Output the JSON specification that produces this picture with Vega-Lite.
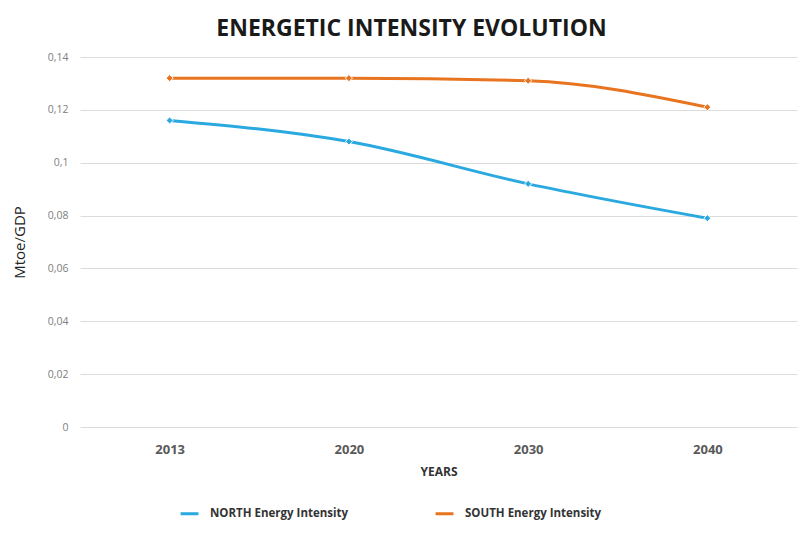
{
  "$schema": "https://vega.github.io/schema/vega-lite/v6.json",
  "autosize": {"type": "none"},
  "width": 717,
  "height": 370,
  "padding": {"left": 80, "top": 57, "right": 8, "bottom": 106},
  "background": "white",
  "title": {
    "text": "ENERGETIC INTENSITY EVOLUTION",
    "font": "Open Sans",
    "fontSize": 23,
    "fontWeight": "bold",
    "color": "#1a1a1a",
    "anchor": "middle",
    "dx": -27,
    "offset": 11
  },
  "data": {
    "values": [
      {"year": "2013", "series": "NORTH Energy Intensity", "value": 0.116},
      {"year": "2020", "series": "NORTH Energy Intensity", "value": 0.108},
      {"year": "2030", "series": "NORTH Energy Intensity", "value": 0.092},
      {"year": "2040", "series": "NORTH Energy Intensity", "value": 0.079},
      {"year": "2013", "series": "SOUTH Energy Intensity", "value": 0.132},
      {"year": "2020", "series": "SOUTH Energy Intensity", "value": 0.132},
      {"year": "2030", "series": "SOUTH Energy Intensity", "value": 0.131},
      {"year": "2040", "series": "SOUTH Energy Intensity", "value": 0.121}
    ]
  },
  "encoding": {
    "x": {
      "field": "year",
      "type": "ordinal",
      "scale": {"type": "point", "padding": 0.5},
      "axis": {
        "title": "YEARS",
        "titleFont": "Open Sans",
        "titleFontSize": 12,
        "titleFontWeight": "bold",
        "titleColor": "#333333",
        "titlePadding": 10,
        "labelAngle": 0,
        "labelFont": "Open Sans",
        "labelFontSize": 13,
        "labelFontWeight": "bold",
        "labelColor": "#595959",
        "labelPadding": 16,
        "ticks": false,
        "domain": false,
        "grid": false
      }
    },
    "y": {
      "field": "value",
      "type": "quantitative",
      "scale": {"domain": [0, 0.14], "nice": false},
      "axis": {
        "title": "Mtoe/GDP",
        "titleFont": "Open Sans",
        "titleFontSize": 15,
        "titleFontWeight": "normal",
        "titleColor": "#222222",
        "titlePadding": 20,
        "values": [0, 0.02, 0.04, 0.06, 0.08, 0.1, 0.12, 0.14],
        "labelExpr": "replace(format(datum.value, '~g'), '.', ',')",
        "labelFont": "Open Sans",
        "labelFontSize": 10.5,
        "labelColor": "#808080",
        "labelPadding": 12,
        "ticks": false,
        "domain": false,
        "grid": true,
        "gridColor": "#dcdcdc",
        "gridWidth": 1
      }
    },
    "color": {
      "field": "series",
      "type": "nominal",
      "scale": {
        "domain": ["NORTH Energy Intensity", "SOUTH Energy Intensity"],
        "range": ["#2aa9e0", "#e8741f"]
      },
      "legend": {
        "title": null,
        "orient": "none",
        "direction": "horizontal",
        "legendX": 99,
        "legendY": 446,
        "symbolType": "stroke",
        "symbolStrokeWidth": 3,
        "symbolSize": 320,
        "labelFont": "Open Sans",
        "labelFontSize": 11.5,
        "labelFontWeight": "bold",
        "labelColor": "#333333",
        "labelOffset": 10,
        "columnPadding": 80,
        "labelLimit": 300
      }
    }
  },
  "layer": [
    {
      "mark": {"type": "line", "strokeWidth": 3, "interpolate": "monotone"}
    },
    {
      "mark": {"type": "point", "filled": true, "shape": "diamond", "size": 50, "stroke": "white", "strokeWidth": 1, "opacity": 1},
      "encoding": {
        "color": {"field": "series", "type": "nominal", "legend": null}
      }
    }
  ],
  "config": {
    "view": {"stroke": null}
  }
}
